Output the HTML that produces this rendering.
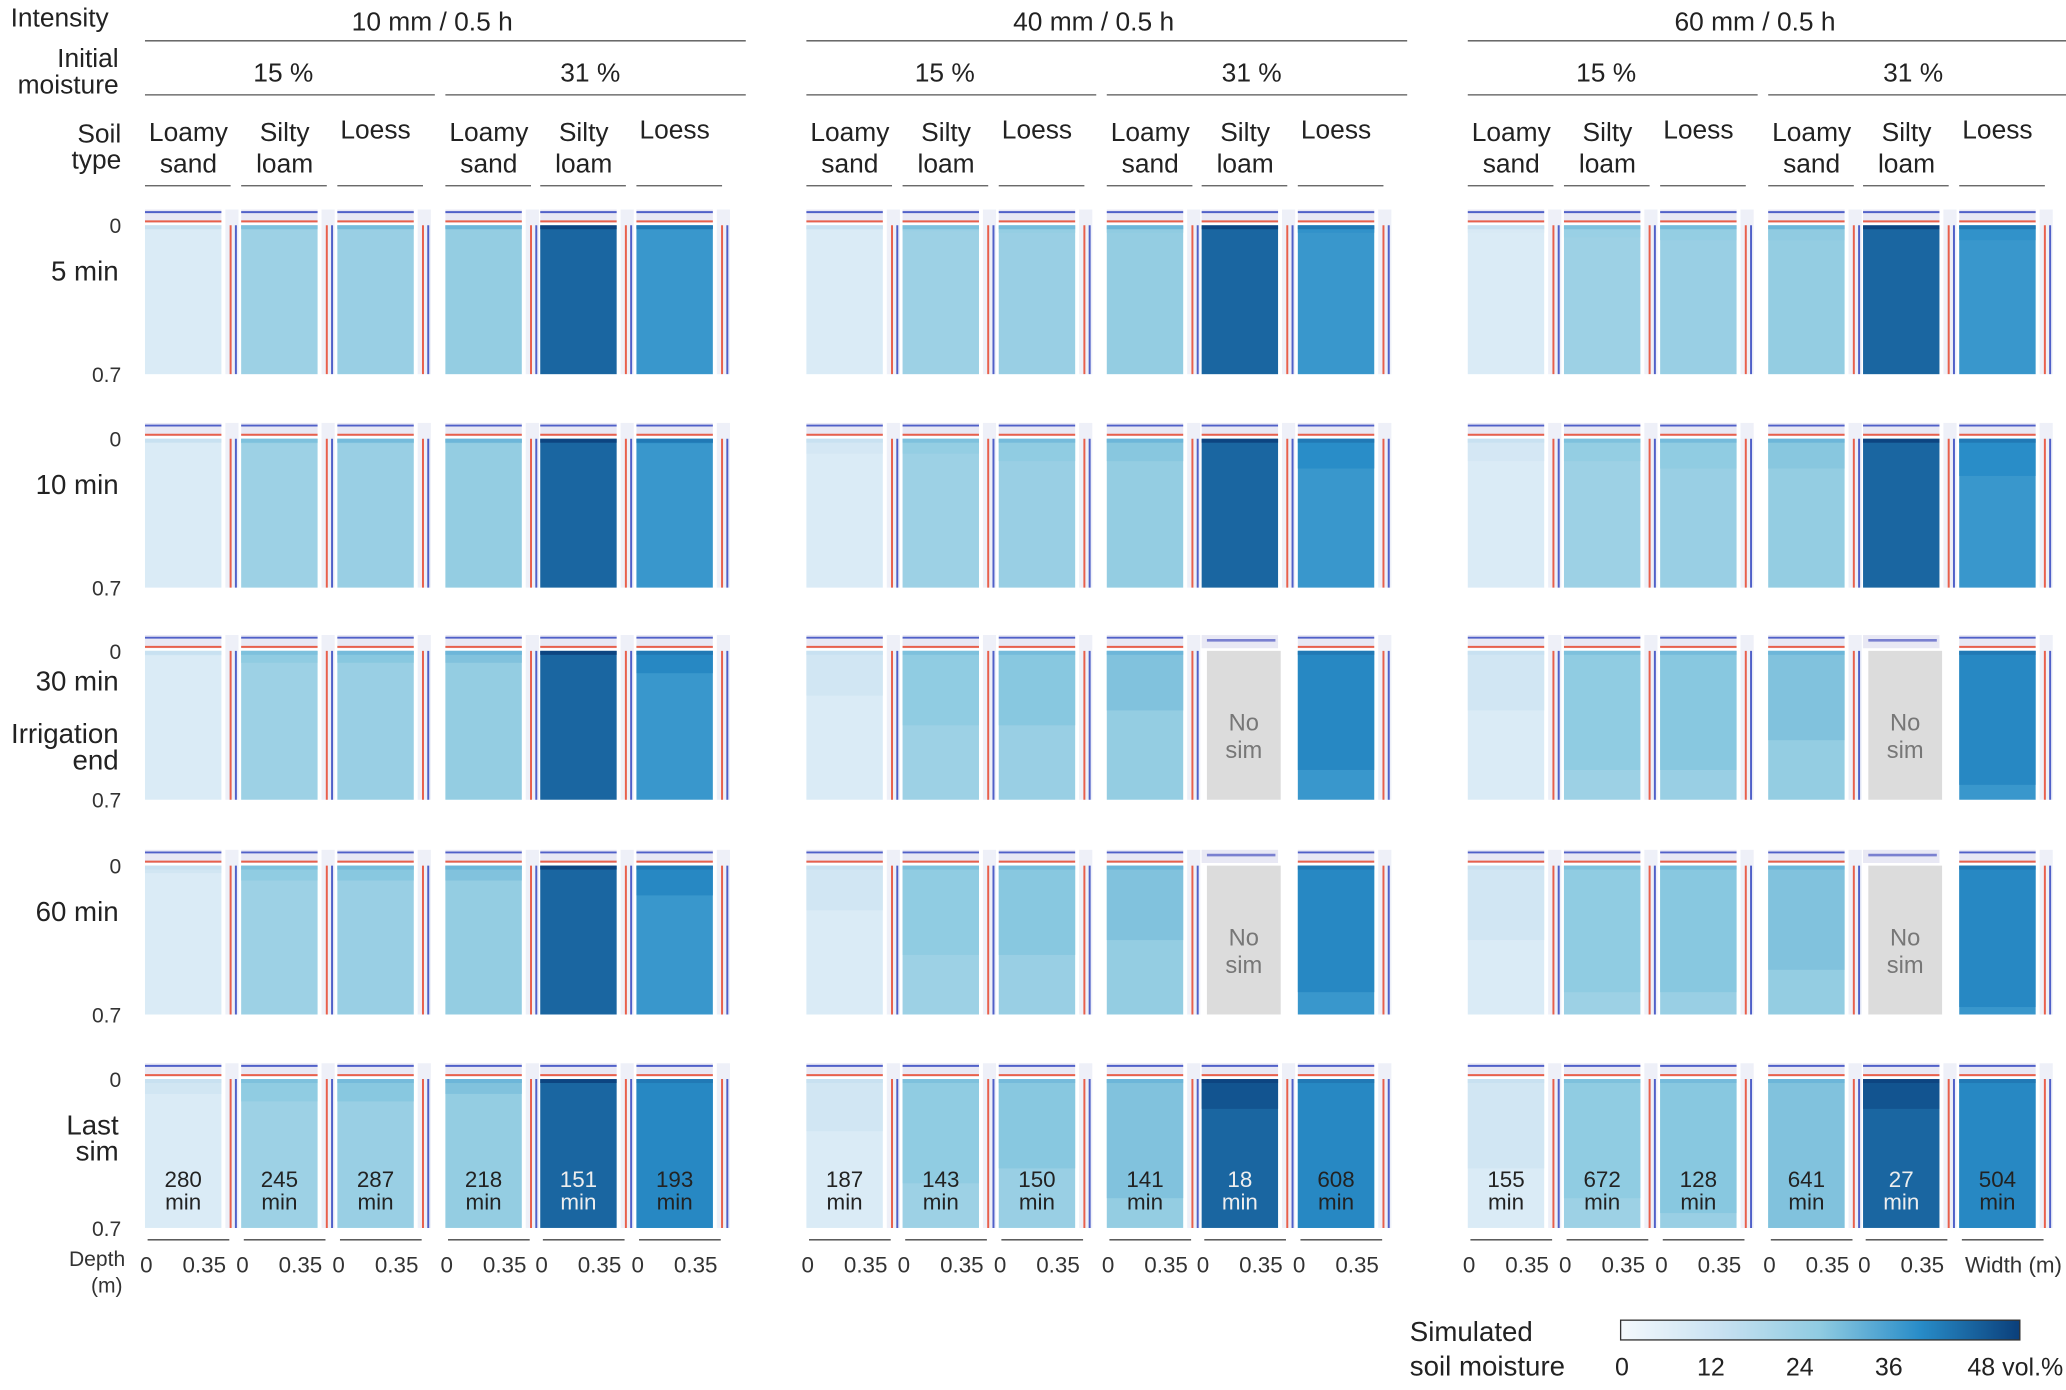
<!DOCTYPE html>
<html><head><meta charset="utf-8"><style>
body{margin:0;background:#fff}
svg{display:block;font-family:"Liberation Sans",Arial,sans-serif}
</style></head><body>
<svg id="c" width="2066" height="1390" viewBox="0 0 1568 1055" xmlns="http://www.w3.org/2000/svg"></svg>
<script>
// ---- data ----
const intensities = ["10 mm / 0.5 h","40 mm / 0.5 h","60 mm / 0.5 h"];
const moistures = ["15 %","31 %"];
const soils = [["Loamy","sand"],["Silty","loam"],["Loess",""]];
const rowLabels = [["5 min"],["10 min"],["30 min","Irrigation","end"],["60 min"],["Last","sim"]];
// base moisture (vol.%) per panel column (18 columns)
const baseMoisture = [7,21,22,23,42,34, 7,21,22,23,42,34, 7,21,22,23,42,34];
// wetted top layer depth (fraction of 0.7 m) per row x column
const wetDepth = [
 [0.01,0.02,0.02,0.02,0,0.02, 0.03,0.04,0.05,0.05,0,0.05, 0.05,0.08,0.1,0.1,0,0.1],
 [0.01,0.03,0.03,0.03,0,0.03, 0.1,0.1,0.15,0.15,0,0.2, 0.15,0.15,0.2,0.2,0,0.25],
 [0.03,0.08,0.08,0.08,0,0.15, 0.3,0.5,0.5,0.4,0,0.8, 0.4,0.8,0.8,0.6,0,0.9],
 [0.05,0.1,0.1,0.1,0,0.2, 0.3,0.6,0.6,0.5,0,0.85, 0.5,0.85,0.85,0.7,0,0.95],
 [0.1,0.15,0.15,0.1,0,1.0, 0.35,0.7,0.6,0.8,0.2,1.0, 0.6,0.8,0.9,1.0,0.2,1.0]
];
const wetBoost = [1,2,3,3,3];
const lastSimMin = [280,245,287,218,151,193, 187,143,150,141,18,608, 155,672,128,641,27,504];
// no-simulation panels: [row, column]
const noSim = [[2,10],[3,10],[2,16],[3,16]];
const cbTicks = [0,12,24,36,48];

// ---- scale ----
const stops=[[0,[244,249,253]],[12,[200,225,241]],[24,[143,203,225]],[36,[40,140,200]],[48,[11,63,122]]];
function color(v){v=Math.max(0,Math.min(48,v));for(let i=0;i<stops.length-1;i++){const[a,ca]=stops[i],[b,cb]=stops[i+1];if(v<=b){const t=(v-a)/(b-a);return `rgb(${ca.map((c,k)=>Math.round(c+(cb[k]-c)*t)).join(',')})`;}}}
const svg=document.getElementById('c');const NS='http://www.w3.org/2000/svg';
function el(t,a,p){const e=document.createElementNS(NS,t);for(const k in a)e.setAttribute(k,a[k]);(p||svg).appendChild(e);return e;}
function txt(x,y,s,size,anchor,fill,name){const e=el('text',{x,y,'font-size':size,'text-anchor':anchor||'middle',fill:fill||'#222'});e.textContent=s;return e;}

const groupX=[110,612,1114];
const colOff=[0,73,146,228,300,373];
const W=58, H=113;
const rowTop=[171,333,494,657,819];
function colX(c){return groupX[Math.floor(c/6)]+colOff[c%6];}

// headers
txt(8,20,"Intensity",20,'start','#222','intensity-label');
txt(90,51,"Initial",20,'end','#222','initial-moisture-label');
txt(90,71,"moisture",20,'end','#222','initial-moisture-label-2');
txt(92,108,"Soil",20,'end','#222','soil-type-label');
txt(92,128,"type",20,'end','#222','soil-type-label-2');
intensities.forEach((s,g)=>{
 const x0=groupX[g];
 txt(x0+218,23,s,20,'middle','#222','intensity-header');
 el('line',{x1:x0,x2:x0+456,y1:31,y2:31,stroke:'#555','stroke-width':1});
 moistures.forEach((m,j)=>{
  const mx=x0+(j?228:0);
  txt(mx+(j?110:105),62,m,20,'middle','#222','moisture-header');
  el('line',{x1:mx,x2:mx+(j?228:220),y1:72,y2:72,stroke:'#555','stroke-width':1});
 });
});
for(let c=0;c<18;c++){
 const x=colX(c),s=soils[c%3];
 if(s[1]){txt(x+33,107,s[0],20,'middle','#222','soil-header');txt(x+33,131,s[1],20,'middle','#222','soil-header-2');}
 else txt(x+29,105,s[0],20,'middle','#222','soil-header');
 el('line',{x1:x,x2:x+W+7,y1:141,y2:141,stroke:'#555','stroke-width':1});
}
// rows
rowLabels.forEach((lab,r)=>{
 const y=rowTop[r];
 txt(92,y+6,"0",16,'end','#333','depth-tick-0');
 txt(92,y+H+6,"0.7",16,'end','#333','depth-tick-07');
 if(lab.length===1) txt(90,y+42,lab[0],21,'end','#222','row-label');
 else if(lab.length===2){txt(90,y+42,lab[0],21,'end','#222','row-label');txt(90,y+62,lab[1],21,'end','#222','row-label-2');}
 else{txt(90,y+30,lab[0],21,'end','#222','row-label');txt(90,y+70,lab[1],21,'end','#222','row-label-2');txt(90,y+90,lab[2],21,'end','#222','row-label-3');}
 for(let c=0;c<18;c++){
  const x=colX(c);
  const ns=noSim.some(p=>p[0]===r&&p[1]===c);
  el('rect',{x,y:y-12,width:W,height:10,fill:'#e8e8f4'});
  if(ns){
   el('line',{x1:x+4,x2:x+W-2,y1:y-8,y2:y-8,stroke:'#7a80d0','stroke-width':2});
   const g=el('rect',{x:x+4,y:y,width:W-2,height:H,fill:'#dcdcdc'});
   
   txt(x+32,y+H/2+4,"No",18,'middle','#777','no-sim-text');
   txt(x+32,y+H/2+25,"sim",18,'middle','#777','no-sim-text-2');
   continue;
  }
  el('line',{x1:x,x2:x+W,y1:y-10,y2:y-10,stroke:'#5060c8','stroke-width':1.5});
  el('line',{x1:x,x2:x+W,y1:y-3,y2:y-3,stroke:'#e8604c','stroke-width':1.5});
  const base=baseMoisture[c];
  const p=el('rect',{x,y,width:W,height:H,fill:color(base)});
  
  const d=wetDepth[r][c];
  const wv=base+wetBoost[r];
  if(d>0){const wr=el('rect',{x,y,width:W,height:H*d,fill:color(wv),opacity:0.9});
   }
  el('rect',{x,y,width:W,height:3,fill:color(base+5)});
  const px=x+W+3;
  el('rect',{x:px,y:y-12,width:10,height:H+12,fill:'#eef0f8'});
  el('line',{x1:px+4,x2:px+4,y1:y,y2:y+H,stroke:'#e8604c','stroke-width':1.5});
  el('line',{x1:px+8,x2:px+8,y1:y,y2:y+H,stroke:'#5060c8','stroke-width':1.5});
  if(r===4){
   const dark = (d>0.6?wv:base)>38;
   txt(x+29,y+82,String(lastSimMin[c]),17,'middle',dark?'#eee':'#222','last-sim-minutes');
   txt(x+29,y+99,"min",17,'middle',dark?'#eee':'#222','last-sim-min-unit');
  }
 }
});
// bottom axis
txt(95,961,"Depth",16,'end','#333','depth-axis-title');
txt(93,981,"(m)",16,'end','#333','depth-axis-unit');
for(let c=0;c<18;c++){const x=colX(c);
 el('line',{x1:x+2,x2:x+W+6,y1:941,y2:941,stroke:'#444','stroke-width':1});
 if(c<17){txt(x+1,966,"0",17,'middle','#333','x-tick-0');
 txt(x+45,966,"0.35",17,'middle','#333','x-tick-035');}}
txt(1565,966,"Width (m)",17,'end','#333','x-axis-title');
// colorbar
txt(1070,1018,"Simulated",21,'start','#222','colorbar-title');
txt(1070,1044,"soil moisture",21,'start','#222','colorbar-title-2');
const defs=el('defs',{});const lg=el('linearGradient',{id:'cb',x1:0,x2:1,y1:0,y2:0},defs);
stops.forEach(s=>el('stop',{offset:s[0]/48,'stop-color':color(s[0])},lg));
const cb=el('rect',{x:1230,y:1002,width:303,height:15,fill:'url(#cb)',stroke:'#333','stroke-width':1});

cbTicks.forEach(t=>{const x=1231+270*t/48;
 if(t===48) txt(1566,1044,"48 vol.%",19,'end','#222','colorbar-tick');
 else txt(x,1044,String(t),19,'middle','#222','colorbar-tick');});
</script>
</body></html>
